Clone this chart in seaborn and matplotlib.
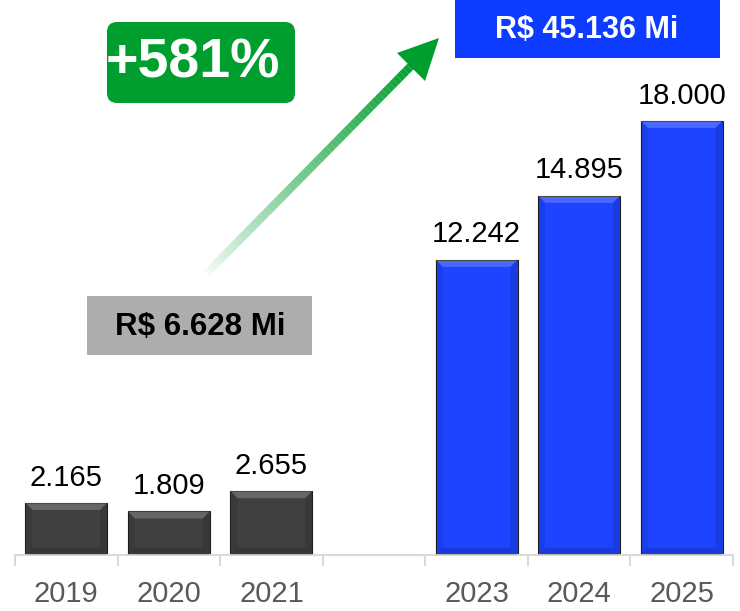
import matplotlib
matplotlib.use("Agg")
import matplotlib.pyplot as plt
import seaborn as sns
import pandas as pd
import numpy as np
from matplotlib.transforms import Affine2D
from matplotlib.patches import FancyBboxPatch, Polygon
from matplotlib.collections import LineCollection

years = ["2019", "2020", "2021", "2023", "2024", "2025"]
values = [2165, 1809, 2655, 12242, 14895, 18000]
order = ["2019", "2020", "2021", "2022", "2023", "2024", "2025"]
bar_colors = ["#404040", "#404040", "#404040", "#1e44ff", "#1e44ff", "#1e44ff"]

growth_label = "+581%"
total_before = "R$ 6.628 Mi"
total_after = "R$ 45.136 Mi"

sns.set_theme(style="white")
plt.rcParams["font.family"] = ["Liberation Sans", "DejaVu Sans"]

df = pd.DataFrame({"year": years, "value": values})

fig = plt.figure(figsize=(7.4, 6.11), dpi=100)
ax = fig.add_axes([15 / 740, 56 / 611, 718 / 740, 555 / 611])

sns.barplot(data=df, x="year", y="value", hue="year", order=order,
            palette=dict(zip(years, bar_colors)), width=0.8, legend=False,
            saturation=1, edgecolor="#202020", linewidth=0.8, ax=ax)

ax.set_ylim(0, 23000)
ax.set_xlim(-0.5, 6.5)

# bevel look on each bar, built from the drawn patches
for patch in ax.patches:
    x0, y0 = patch.get_x(), patch.get_y()
    w, h = patch.get_width(), patch.get_height()
    if h <= 0 or np.isnan(h):
        continue
    bx, by = 0.07, 300
    x1, y1 = x0 + w, y0 + h
    ax.add_patch(Polygon([(x0, y1), (x1, y1), (x1 - bx, y1 - by), (x0 + bx, y1 - by)],
                         closed=True, facecolor="white", alpha=0.2, lw=0, zorder=3))
    ax.add_patch(Polygon([(x0, y0), (x1, y0), (x1 - bx, y0 + by), (x0 + bx, y0 + by)],
                         closed=True, facecolor="black", alpha=0.15, lw=0, zorder=3))
    ax.add_patch(Polygon([(x0, y0), (x0, y1), (x0 + bx, y1 - by), (x0 + bx, y0 + by)],
                         closed=True, facecolor="black", alpha=0.08, lw=0, zorder=3))
    ax.add_patch(Polygon([(x1, y0), (x1, y1), (x1 - bx, y1 - by), (x1 - bx, y0 + by)],
                         closed=True, facecolor="black", alpha=0.12, lw=0, zorder=3))

for cont in ax.containers:
    labels = [f"{v:,.0f}".replace(",", ".") for v in cont.datavalues]
    ax.bar_label(cont, labels=labels, padding=8, fontsize=21, color="black")

# axes styling
for s in ["left", "top", "right"]:
    ax.spines[s].set_visible(False)
ax.spines["bottom"].set_color("#d9d9d9")
ax.spines["bottom"].set_linewidth(1.5)
ax.set_yticks([])
ax.set_xlabel("")
ax.set_ylabel("")
ax.set_xticks(range(len(order)))
ax.set_xticklabels([o if o != "2022" else "" for o in order])
ax.tick_params(axis="x", which="major", length=0, pad=18, labelsize=21, labelcolor="#595959")
ax.set_xticks(np.arange(-0.5, len(order), 1.0), minor=True)
ax.tick_params(axis="x", which="minor", bottom=True, length=8, width=1.5,
               color="#d9d9d9", direction="out")

# annotations placed in reference pixel space (origin top-left)
px = Affine2D().scale(1 / 740, -1 / 611).translate(0, 1) + fig.transFigure

fig.patches.append(FancyBboxPatch((107, 22), 188, 81, boxstyle="round,pad=0,rounding_size=10",
                                  transform=px, facecolor="#009e2e", edgecolor="none"))
fig.text(193, 63, growth_label, transform=px, ha="center", va="center",
         fontsize=40, fontweight="bold", color="white")

fig.patches.append(FancyBboxPatch((455, 0), 265, 58, boxstyle="square,pad=0",
                                  transform=px, facecolor="#0d3bff", edgecolor="none"))
fig.text(587, 30, total_after, transform=px, ha="center", va="center",
         fontsize=22, fontweight="bold", color="white")

fig.patches.append(FancyBboxPatch((87, 296), 225, 59, boxstyle="square,pad=0",
                                  transform=px, facecolor="#adadad", edgecolor="none"))
fig.text(200, 327, total_before, transform=px, ha="center", va="center",
         fontsize=22.5, fontweight="bold", color="black")

# gradient arrow
start = np.array([203.0, 277.0])
end = np.array([413.0, 64.0])
n = 60
pts = start + (end - start) * np.linspace(0, 1, n + 1)[:, None]
segs = [[pts[i], pts[i + 1]] for i in range(n)]
cols = [(0.0, 0.62, 0.18, (i / n) ** 0.8) for i in range(n)]
fig.add_artist(LineCollection(segs, colors=cols, linewidths=6, transform=px,
                              capstyle="butt"))
fig.add_artist(Polygon([(439, 38), (397, 53), (425, 81)], closed=True, transform=px,
                       facecolor="#009e2e", edgecolor="none"))

fig.savefig("out.png", dpi=100)
